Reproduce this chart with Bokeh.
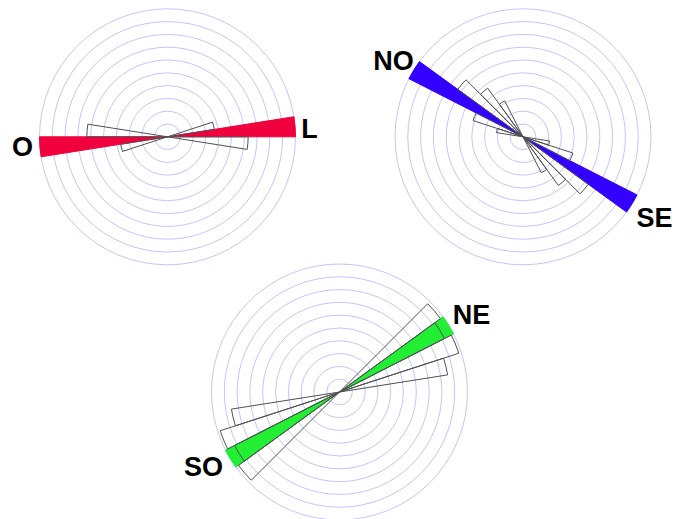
import numpy as np
from bokeh.plotting import figure
from bokeh.models import Range1d, ColumnDataSource
from bokeh.core.properties import value
from bokeh.embed import file_html
from bokeh.resources import INLINE

# ---------------- data ----------------
BIN_WIDTH = 9                      # degrees per sector
RING_LEVELS = [1, 2, 3, 4, 5, 6, 7, 8, 9, 10]

# Chart 1 : Leste - Oeste
ew_labels = ["L", "O"]
ew_main_bin = 0
ew_main_value = 10.0
ew_bins = [9, 171]
ew_values = [3.7, 6.3]

# Chart 2 : Noroeste - Sudeste
nose_labels = ["NO", "SE"]
nose_main_bin = 144
nose_main_value = 10.0
nose_bins = [117, 126, 135, 153, 162]
nose_values = [3.15, 4.7, 6.3, 4.1, 2.1]

# Chart 3 : Nordeste - Sudoeste
neso_labels = ["NE", "SO"]
neso_main_bin = 27
neso_main_value = 10.0
neso_bins = [9, 18, 27, 36]
neso_values = [8.55, 9.8, 9.2, 9.75]

# ---------------- layout ----------------
W, H = 675, 519
UNIT = 12.8  # px per ring step


def page(px, py):
    return px, H - py


charts = [
    dict(center=(167, 136.3), color="#F0003C",
         main_bin=ew_main_bin, main_value=ew_main_value,
         bins=ew_bins, values=ew_values, labels=ew_labels,
         label_pos=[(309, 128), (22, 146)]),
    dict(center=(522.5, 136.3), color="#3300FF",
         main_bin=nose_main_bin, main_value=nose_main_value,
         bins=nose_bins, values=nose_values, labels=nose_labels,
         label_pos=[(393, 60), (654, 217)]),
    dict(center=(339, 391.5), color="#22EE33",
         main_bin=neso_main_bin, main_value=neso_main_value,
         bins=neso_bins, values=neso_values, labels=neso_labels,
         label_pos=[(471, 314), (203, 466)]),
]

p = figure(width=W, height=H, output_backend="svg", toolbar_location=None,
           x_range=Range1d(0, W), y_range=Range1d(0, H),
           x_axis_location=None, y_axis_location=None, min_border=0)
p.grid.visible = False
p.outline_line_color = None
p.background_fill_color = "white"

for c in charts:
    cx, cy = page(*c["center"])
    # rings
    p.circle(x=[cx] * len(RING_LEVELS), y=[cy] * len(RING_LEVELS),
             radius=[r * UNIT for r in RING_LEVELS], radius_units="data",
             fill_color=None, line_color="#C4C4FF", line_width=1)
    # highlighted (main) sector, both directions
    starts = [c["main_bin"], c["main_bin"] + 180]
    p.wedge(x=[cx, cx], y=[cy, cy], radius=[c["main_value"] * UNIT] * 2,
            start_angle=[np.deg2rad(s) for s in starts],
            end_angle=[np.deg2rad(s + BIN_WIDTH) for s in starts],
            fill_color=c["color"], line_color=c["color"], line_width=1)
    # outlined histogram sectors (axial data: mirrored at +180)
    b = list(c["bins"]) + [x + 180 for x in c["bins"]]
    v = list(c["values"]) * 2
    src = ColumnDataSource(dict(
        x=[cx] * len(b), y=[cy] * len(b),
        r=[val * UNIT for val in v],
        a0=[np.deg2rad(s) for s in b],
        a1=[np.deg2rad(s + BIN_WIDTH) for s in b]))
    p.wedge(x="x", y="y", radius="r", start_angle="a0", end_angle="a1",
            source=src, fill_color=None, line_color="#505050", line_width=1)
    # labels
    lx, ly = zip(*[page(*q) for q in c["label_pos"]])
    p.text(x=list(lx), y=list(ly), text=c["labels"],
           text_font=value("Liberation Sans"), text_font_style="bold",
           text_font_size="27px", text_align="center", text_baseline="middle",
           text_color="black")

open("out.html", "w").write(file_html(p, INLINE))
